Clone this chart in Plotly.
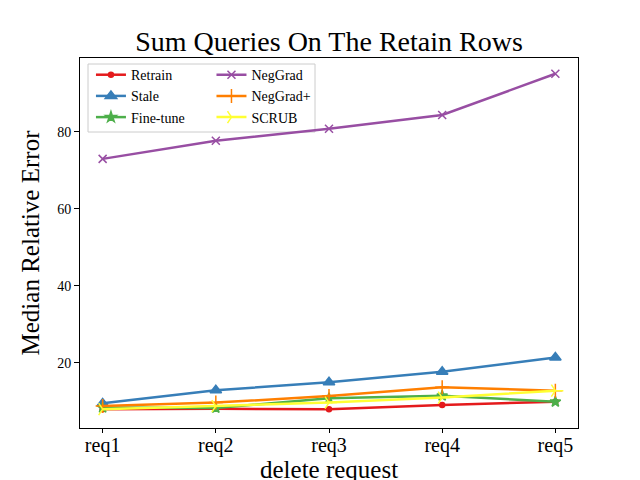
import plotly.graph_objects as go

requests = ["req1", "req2", "req3", "req4", "req5"]
retrain = [8.0, 8.1, 8.0, 9.1, 9.9]
stale = [9.5, 12.9, 15.0, 17.7, 21.4]
fine_tune = [8.4, 8.3, 10.8, 11.5, 9.9]
neggrad = [73.0, 77.7, 80.8, 84.4, 95.1]
neggrad_plus = [8.8, 9.7, 11.4, 13.7, 12.8]
scrub = [8.0, 8.8, 9.7, 11.0, 12.8]

series = [
    ("Retrain", retrain, "#e41a1c", "circle", 5, "legend"),
    ("Stale", stale, "#377eb8", "triangle-up", 10, "legend"),
    ("Fine-tune", fine_tune, "#4daf4a", "star", 8, "legend"),
    ("NegGrad", neggrad, "#984ea3", "x-thin-open", 8, "legend2"),
    ("NegGrad+", neggrad_plus, "#ff7f00", "cross-thin-open", 10, "legend2"),
    ("SCRUB", scrub, "#ffff33", "y-right-open", 10, "legend2"),
]

x = list(range(len(requests)))
fig = go.Figure()
for name, vals, color, sym, size, lg in series:
    fig.add_trace(go.Scatter(
        x=x, y=vals, name=name, mode="lines+markers",
        line=dict(color=color, width=2.5),
        marker=dict(symbol=sym, size=size, color=color,
                    line=dict(color=color, width=1.5)),
        legend=lg,
    ))

font = "Liberation Serif"
# page body has an 8px margin, so the figure is 8px smaller and margins shifted
W, H = 632, 472
fig.update_layout(
    width=W, height=H,
    margin=dict(l=72, r=62, t=50, b=52),
    paper_bgcolor="white", plot_bgcolor="white",
    font=dict(family=font, color="black"),
    title=dict(text="Sum Queries On The Retain Rows", x=(329 - 8) / W, xanchor="center",
               y=1 - 33 / H, yanchor="middle", font=dict(size=28, family=font)),
    xaxis=dict(range=[-0.2, 4.2], tickvals=x, ticktext=requests,
               tickfont=dict(size=20), showline=True, mirror=True,
               linecolor="black", linewidth=1, ticks="outside", ticklen=4,
               ticklabelstandoff=-5,
               tickcolor="black", showgrid=False, zeroline=False, automargin=False),
    yaxis=dict(range=[3.1, 99.2], tickvals=[20, 40, 60, 80],
               tickfont=dict(size=14), showline=True, mirror=True,
               linecolor="black", linewidth=1, ticks="outside", ticklen=5,
               tickcolor="black", showgrid=False, zeroline=False, automargin=False,
               title=dict(text="Median Relative Error", font=dict(size=25), standoff=10)),
    legend=dict(x=0.022, y=0.997, xanchor="left", yanchor="top",
                font=dict(size=14, family=font), bgcolor="rgba(0,0,0,0)",
                itemwidth=30, tracegroupgap=0),
    legend2=dict(x=0.264, y=0.997, xanchor="left", yanchor="top",
                 font=dict(size=14, family=font), bgcolor="rgba(0,0,0,0)",
                 itemwidth=30, tracegroupgap=0),
    shapes=[dict(type="rect", xref="paper", yref="paper",
                 x0=(88 - 80) / 498, x1=(315 - 80) / 498,
                 y0=1 - (132 - 58) / 370, y1=1 - (64 - 58) / 370,
                 line=dict(color="#cccccc", width=1), fillcolor="rgba(255,255,255,0.8)",
                 layer="below")],
    annotations=[dict(text="delete request", xref="paper", yref="paper",
                      x=0.5, y=-(469 - 428) / 370, xanchor="center", yanchor="middle",
                      showarrow=False, font=dict(size=25, family=font))],
)

fig.write_html("out.html")
